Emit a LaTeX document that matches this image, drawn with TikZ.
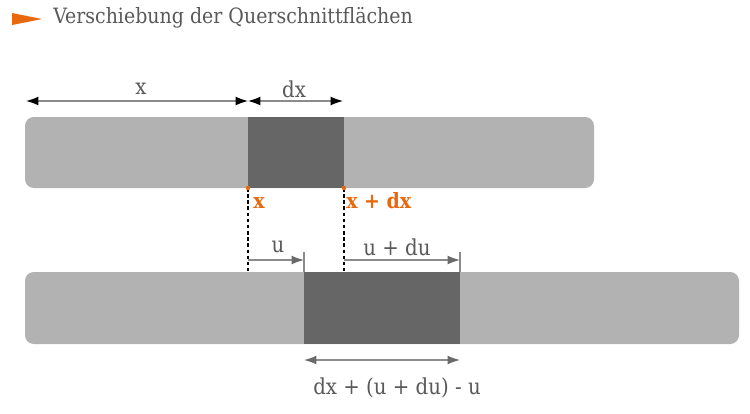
\documentclass[tikz,border=0pt]{standalone}
\usepackage{fontspec}
\setmainfont{DejaVu Serif Condensed}
\usetikzlibrary{arrows.meta}

\definecolor{barlight}{HTML}{B2B2B2}
\definecolor{bardark}{HTML}{666666}
\definecolor{textgray}{HTML}{595959}
\definecolor{accent}{HTML}{E8680E}

\begin{document}
\begin{tikzpicture}[x=0.02cm,y=-0.02cm,
                    bar/.style={fill=barlight,rounded corners=5pt},
                    slab/.style={fill=bardark},
                    lbl/.style={font=\fontsize{12.5}{14}\selectfont,text=textgray,inner sep=0pt},
                    hilite/.style={font=\fontsize{12}{14}\selectfont\bfseries,text=accent,inner sep=0pt},
                    dimblack/.style={draw=textgray!70,line width=0.7pt,{Latex[black,length=7pt,width=5pt]}-{Latex[black,length=7pt,width=5pt]}},
                    dimgray/.style={draw=textgray!70,line width=0.7pt,-{Latex[textgray!90,length=7pt,width=5pt]}},
                    dimboth/.style={draw=textgray!70,line width=0.7pt,{Latex[textgray!90,length=7pt,width=5pt]}-{Latex[textgray!90,length=7pt,width=5pt]}},
                    guide/.style={black,line width=1pt,dash pattern=on 2pt off 1.5pt}]
      \useasboundingbox (0,0) rectangle (750,413);

      % title
      \fill[accent] (12,13) -- (42,19) -- (12,25) -- cycle;
      \node[lbl,anchor=west,font=\fontsize{12}{15}\selectfont] (title) at (53,18) {Verschiebung der Querschnittflächen};

      % bars
      \fill[bar] (25,117) rectangle (594,188);
      \fill[slab] (248,117) rectangle (344,188);
      \fill[bar] (25,272) rectangle (739,344);
      \fill[slab] (304,272) rectangle (460,344);

      % reference points
      \coordinate (a0) at (26,101);
      \coordinate (a1) at (248,101);
      \coordinate (a2) at (343,101);
      \coordinate (p1) at (248,188);
      \coordinate (p2) at (344,188);
      \coordinate (q1) at (248,272);
      \coordinate (q2) at (344,272);
      \coordinate (u0) at (248,260);
      \coordinate (u1) at (304,260);
      \coordinate (v0) at (344,260);
      \coordinate (v1) at (460,260);
      \coordinate (w0) at (304,360);
      \coordinate (w1) at (460,360);

      % dimensions on top
      \draw[dimblack] (a0) -- (a1);
      \draw[dimblack] (a1) -- (a2);
      \node[lbl] (lx) at (141,89) {x};
      \node[lbl] (ldx) at (294,89) {dx};

      % guides
      \draw[guide] (p1) -- (q1);
      \draw[guide] (p2) -- (q2);
      \fill[accent] (p1) circle (2.2);
      \fill[accent] (p2) circle (2.2);
      \node[hilite,anchor=west] (mx) at (253,203) {x};
      \node[hilite,anchor=west] (mxdx) at (346,201) {x + dx};

      % displacements
      \draw[textgray!70,line width=0.7pt] (304,252) -- (304,272);
      \draw[textgray!70,line width=0.7pt] (460,252) -- (460,272);
      \draw[dimgray] (u0) -- (u1);
      \draw[dimgray] (v0) -- (v1);
      \node[lbl] (lu) at (278,247) {u};
      \node[lbl] (ludu) at (397,247) {u + du};

      % new length
      \draw[dimboth] (w0) -- (w1);
      \node[lbl] (lsum) at (397,388) {dx + (u + du) - u};
    \end{tikzpicture}
\end{document}
